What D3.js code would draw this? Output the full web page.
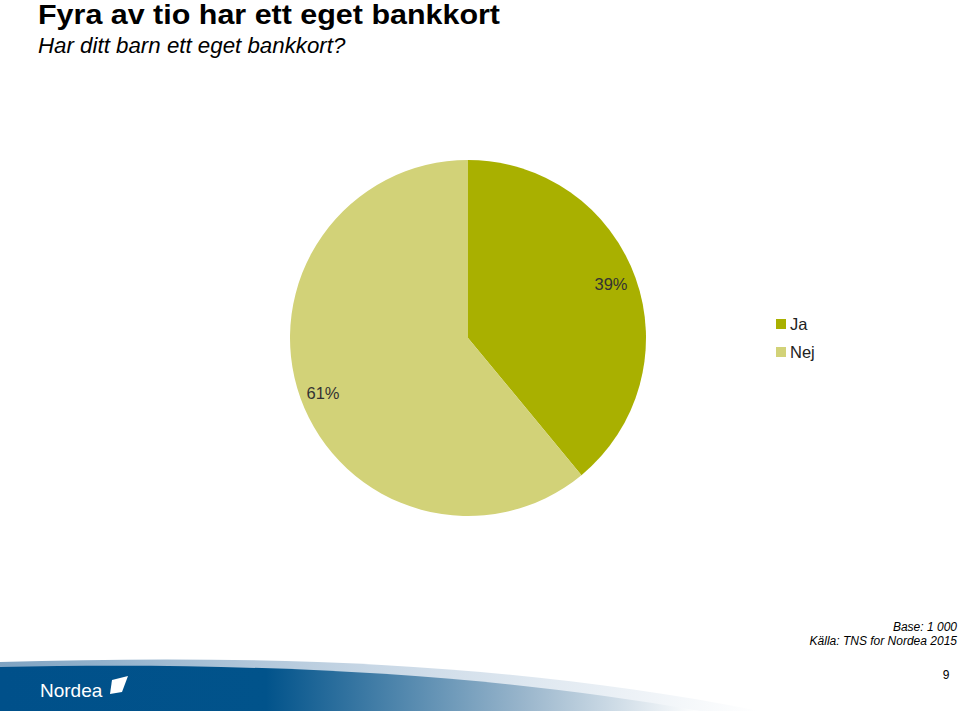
<!DOCTYPE html>
<html><head><meta charset="utf-8">
<script src="https://cdn.jsdelivr.net/npm/d3@7"></script>
<style>body{margin:0;background:#fff}svg{display:block}text{font-family:"Liberation Sans",Arial,sans-serif}</style>
</head><body>
<script>
const categories = ["Ja", "Nej"];
const values = [39, 61];
const colors = ["#a9b000", "#d2d278"];

const W = 959, H = 711;
const svg = d3.select("body").append("svg").attr("width", W).attr("height", H);

svg.append("text").attr("x", 38).attr("y", 24).attr("font-size", 27).attr("font-weight", "bold")
  .attr("textLength", 462).attr("lengthAdjust", "spacingAndGlyphs").text("Fyra av tio har ett eget bankkort");
svg.append("text").attr("x", 38).attr("y", 53).attr("font-size", 22.3).attr("font-style", "italic").text("Har ditt barn ett eget bankkort?");

// pie
const cx = 468, cy = 338, r = 178;
const g = svg.append("g").attr("transform", `translate(${cx},${cy})`);
const pie = d3.pie().sort(null).value(d => d.v);
const data = pie(categories.map((c, i) => ({c, v: values[i]})));
const arc = d3.arc().innerRadius(0).outerRadius(r);
g.selectAll("path").data(data).enter().append("path")
  .attr("d", arc).attr("fill", (d, i) => colors[i]);

const lab = [{x: 611, y: 290}, {x: 323, y: 399}];
data.forEach((d, i) => {
  svg.append("text").attr("x", lab[i].x).attr("y", lab[i].y).attr("text-anchor", "middle")
    .attr("font-size", 16.5).attr("fill", "#333").text(d.data.v + "%");
});

// legend
categories.forEach((c, i) => {
  const y = 324 + i * 28;
  svg.append("rect").attr("x", 776).attr("y", y - 5).attr("width", 10).attr("height", 10).attr("fill", colors[i]);
  svg.append("text").attr("x", 790).attr("y", y + 6).attr("font-size", 16.5).attr("fill", "#222").text(c);
});

// footer
svg.append("text").attr("x", 957).attr("y", 631).attr("text-anchor", "end").attr("font-size", 12).attr("font-style", "italic").text("Base: 1 000");
svg.append("text").attr("x", 957).attr("y", 645).attr("text-anchor", "end").attr("font-size", 12).attr("font-style", "italic").text("Källa: TNS for Nordea 2015");
svg.append("text").attr("x", 946).attr("y", 679).attr("text-anchor", "middle").attr("font-size", 12).text("9");

const defs = svg.append("defs");
const lg = defs.append("linearGradient").attr("id", "band");
lg.append("stop").attr("offset", "0").attr("stop-color", "#00508a");
lg.append("stop").attr("offset", "0.38").attr("stop-color", "#01538b");
lg.append("stop").attr("offset", "0.75").attr("stop-color", "#9ab6cc");
lg.append("stop").attr("offset", "1").attr("stop-color", "#ffffff");
const lg2 = defs.append("linearGradient").attr("id", "band2");
lg2.append("stop").attr("offset", "0").attr("stop-color", "#7fa3c2");
lg2.append("stop").attr("offset", "0.5").attr("stop-color", "#c9d8e6");
lg2.append("stop").attr("offset", "1").attr("stop-color", "#ffffff");
svg.append("path").attr("d", "M0,662 C250,655 500,660 760,711 L0,711 Z").attr("fill", "url(#band2)");
svg.append("path").attr("d", "M0,667 C250,662 480,672 700,711 L0,711 Z").attr("fill", "url(#band)");

svg.append("text").attr("x", 40).attr("y", 697).attr("font-size", 19).attr("fill", "#fff").text("Nordea");
svg.append("path").attr("d", "M112,680 L128,676 L122,692 L110,694 Z").attr("fill", "#fff");
</script>
</body></html>
